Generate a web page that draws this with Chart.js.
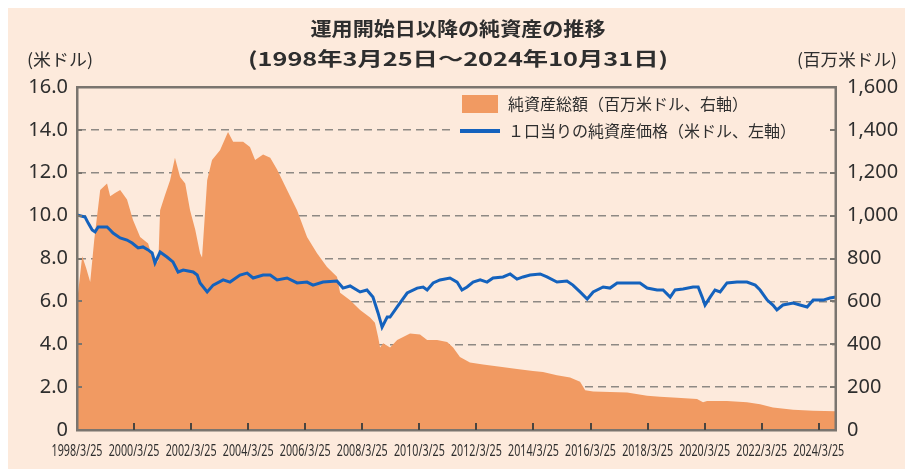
<!DOCTYPE html>
<html lang="ja">
<head>
<meta charset="utf-8">
<title>運用開始日以降の純資産の推移</title>
<script src="https://cdn.jsdelivr.net/npm/chart.js@4.4.1/dist/chart.umd.min.js"></script>
<style>
  html, body { margin: 0; padding: 0; background: #fff; }
  #wrap { width: 905px; height: 472px; position: relative; }
</style>
</head>
<body>
<div id="wrap"><canvas id="navChart"></canvas></div>
<script>
const titleLines = ['運用開始日以降の純資産の推移', '(1998年3月25日～2024年10月31日)'];
const leftUnit = '(米ドル)';
const rightUnit = '(百万米ドル)';
const assetLabel = '純資産総額（百万米ドル、右軸）';
const navLabel = '１口当りの純資産価格（米ドル、左軸）';

// x axis runs in decimal years: 1998/3/25 .. 2024/10/31
const xStart = 1998.227;
const xEnd = 2024.831;
const xTickYears = [1998.227, 2000.227, 2002.227, 2004.227, 2006.227, 2008.227, 2010.227,
	2012.227, 2014.227, 2016.227, 2018.227, 2020.227, 2022.227, 2024.227];
const xTickLabels = ['1998/3/25', '2000/3/25', '2002/3/25', '2004/3/25', '2006/3/25', '2008/3/25', '2010/3/25',
	'2012/3/25', '2014/3/25', '2016/3/25', '2018/3/25', '2020/3/25', '2022/3/25', '2024/3/25'];

// 純資産総額 (百万米ドル, right axis)
const assetYears = [1998.23, 1998.41, 1998.55, 1998.69, 1998.83, 1999.04, 1999.28, 1999.39, 1999.56, 1999.74,
	1999.98, 2000.19, 2000.44, 2000.72, 2000.89, 2001.03, 2001.08, 2001.14, 2001.31, 2001.49,
	2001.66, 2001.84, 2002.02, 2002.19, 2002.37, 2002.54, 2002.61, 2002.79, 2002.96, 2003.24,
	2003.42, 2003.52, 2003.70, 2004.05, 2004.29, 2004.47, 2004.75, 2005.00, 2005.24, 2005.59,
	2005.94, 2006.29, 2006.64, 2006.99, 2007.34, 2007.45, 2007.80, 2008.15, 2008.50, 2008.67,
	2008.78, 2008.85, 2008.96, 2009.20, 2009.45, 2009.90, 2010.25, 2010.50, 2010.85, 2011.20,
	2011.41, 2011.65, 2012.00, 2012.46, 2013.06, 2013.65, 2014.21, 2014.56, 2015.05, 2015.51,
	2015.86, 2016.04, 2016.32, 2017.51, 2018.21, 2018.66, 2019.26, 2019.96, 2020.17, 2020.31,
	2021.01, 2021.71, 2022.17, 2022.62, 2023.33, 2024.03, 2024.83];
const assetValues = [600, 810, 755, 690, 885, 1120, 1150, 1090, 1105, 1120,
	1075, 980, 900, 870, 795, 780, 790, 1025, 1095, 1165,
	1270, 1180, 1150, 1025, 935, 825, 805, 1165, 1260, 1305,
	1360, 1390, 1345, 1345, 1320, 1260, 1285, 1270, 1215, 1120,
	1025, 900, 825, 760, 715, 640, 605, 560, 525, 500,
	435, 385, 405, 385, 420, 450, 445, 420, 420, 410,
	385, 340, 315, 305, 295, 285, 275, 270, 255, 245,
	225, 185, 180, 175, 160, 155, 150, 145, 130, 135,
	135, 130, 120, 105, 95, 90, 88];

// 1口当りの純資産価格 (米ドル, left axis)
const navYears = [1998.23, 1998.51, 1998.62, 1998.76, 1998.86, 1998.97, 1999.28, 1999.39, 1999.49, 1999.74,
	1999.98, 2000.16, 2000.37, 2000.54, 2000.72, 2000.86, 2000.96, 2001.14, 2001.38, 2001.59,
	2001.77, 2001.95, 2002.30, 2002.44, 2002.54, 2002.79, 2003.00, 2003.35, 2003.59, 2003.94,
	2004.19, 2004.40, 2004.75, 2005.00, 2005.24, 2005.59, 2005.94, 2006.29, 2006.50, 2006.85,
	2007.34, 2007.55, 2007.80, 2008.15, 2008.39, 2008.60, 2008.78, 2008.92, 2009.10, 2009.20,
	2009.45, 2009.80, 2010.15, 2010.36, 2010.50, 2010.71, 2010.95, 2011.30, 2011.55, 2011.72,
	2011.90, 2012.11, 2012.36, 2012.60, 2012.81, 2013.16, 2013.41, 2013.65, 2013.86, 2014.11,
	2014.46, 2014.70, 2015.05, 2015.40, 2015.61, 2015.86, 2016.11, 2016.32, 2016.67, 2016.91,
	2017.16, 2017.51, 2017.96, 2018.21, 2018.56, 2018.77, 2019.02, 2019.19, 2019.47, 2019.82,
	2020.00, 2020.14, 2020.24, 2020.42, 2020.59, 2020.77, 2021.01, 2021.36, 2021.71, 2022.00,
	2022.17, 2022.42, 2022.62, 2022.76, 2022.97, 2023.33, 2023.57, 2023.82, 2024.03, 2024.38,
	2024.62, 2024.83];
const navValues = [10.03, 9.93, 9.65, 9.33, 9.24, 9.47, 9.47, 9.33, 9.19, 8.96,
	8.86, 8.72, 8.49, 8.54, 8.40, 8.26, 7.79, 8.30, 8.07, 7.84,
	7.37, 7.46, 7.37, 7.23, 6.86, 6.44, 6.76, 7.00, 6.90, 7.23,
	7.32, 7.09, 7.23, 7.23, 7.00, 7.09, 6.86, 6.90, 6.76, 6.90,
	6.95, 6.62, 6.72, 6.44, 6.53, 6.20, 5.46, 4.80, 5.27, 5.27,
	5.74, 6.39, 6.62, 6.67, 6.53, 6.86, 7.00, 7.09, 6.90, 6.53,
	6.67, 6.90, 7.00, 6.90, 7.09, 7.14, 7.28, 7.04, 7.14, 7.23,
	7.28, 7.14, 6.90, 6.95, 6.76, 6.44, 6.11, 6.44, 6.67, 6.62,
	6.86, 6.86, 6.86, 6.62, 6.53, 6.53, 6.20, 6.53, 6.58, 6.67,
	6.67, 6.20, 5.83, 6.20, 6.53, 6.44, 6.86, 6.90, 6.90, 6.76,
	6.53, 6.06, 5.83, 5.60, 5.83, 5.92, 5.83, 5.74, 6.06, 6.06,
	6.16, 6.20];

const pageBg = '#fdeadc';
const inkColor = '#2e2e2e';
const frameColor = '#7a756f';
const gridColor = '#8e8984';
const tickColor = '#4a4540';
const assetColor = '#f19a62';
const navColor = '#1462bd';
const jpFont = '"Noto Sans CJK JP", "Noto Sans", sans-serif';
const numFont = '"Noto Sans", "Liberation Sans", sans-serif';

function toPoints(xs, ys) {
	return xs.map((x, i) => ({ x: x, y: ys[i] }));
}

// draw text centred on cx, squeezed/stretched so it spans targetWidth
function fitText(ctx, text, cx, cy, targetWidth) {
	const w = ctx.measureText(text).width;
	ctx.save();
	ctx.textAlign = 'center';
	ctx.translate(cx, cy);
	ctx.scale(targetWidth / w, 1);
	ctx.fillText(text, 0, 0);
	ctx.restore();
}

const decorPlugin = {
	id: 'decor',
	beforeDraw(chart) {
		const { ctx, width, height } = chart;
		ctx.save();
		ctx.fillStyle = '#ffffff';
		ctx.fillRect(0, 0, width, height);
		ctx.fillStyle = pageBg;
		ctx.fillRect(8, 8, width - 8, height - 11);
		ctx.restore();
	},
	beforeDatasetsDraw(chart) {
		const { ctx, chartArea } = chart;
		// legend sits on a plain patch that hides the grid behind it
		ctx.save();
		ctx.fillStyle = pageBg;
		ctx.fillRect(453, chartArea.top + 3, chartArea.right - 8 - 453, 53);
		ctx.restore();
	},
	afterDraw(chart) {
		const { ctx, chartArea, scales } = chart;
		const L = chartArea.left, R = chartArea.right, T = chartArea.top, B = chartArea.bottom;
		ctx.save();

		// plot frame
		ctx.fillStyle = frameColor;
		ctx.fillRect(L - 1, T - 1, R - L + 2, 2.5);
		ctx.fillRect(L - 1, B - 1, R - L + 2, 2.5);
		ctx.fillRect(L - 1, T - 1, 2.5, B - T + 2);
		ctx.fillRect(R - 1.5, T - 1, 2.5, B - T + 2);

		// short inner ticks on the value axes
		for (let v = 2; v <= 14; v += 2) {
			const y = Math.round(scales.yL.getPixelForValue(v));
			ctx.fillRect(L, y - 1, 5, 2);
			ctx.fillRect(R - 6, y - 1, 6, 2);
		}

		// x ticks pointing up into the plot
		ctx.fillStyle = tickColor;
		xTickYears.forEach((yr, i) => {
			if (i === 0) return;
			const x = Math.round(scales.x.getPixelForValue(yr));
			ctx.fillRect(x - 1, B - 7, 2, 7);
		});

		// condensed date labels
		ctx.fillStyle = inkColor;
		ctx.font = '17px ' + numFont;
		ctx.textAlign = 'center';
		ctx.textBaseline = 'middle';
		xTickYears.forEach((yr, i) => {
			const x = scales.x.getPixelForValue(yr);
			ctx.save();
			ctx.translate(x, B + 21);
			ctx.scale(0.63, 1);
			ctx.fillText(xTickLabels[i], 0, 0);
			ctx.restore();
		});

		// title
		ctx.font = 'bold 19px ' + jpFont;
		fitText(ctx, titleLines[0], 458, 29, 295);
		fitText(ctx, titleLines[1], 458, 59, 420);

		// axis units
		ctx.font = '17px ' + jpFont;
		fitText(ctx, leftUnit, 60, 60, 66);
		fitText(ctx, rightUnit, 847, 60, 100);

		// legend
		ctx.textAlign = 'left';
		ctx.font = '16px ' + jpFont;
		ctx.fillStyle = assetColor;
		ctx.fillRect(462, 95, 36, 18);
		ctx.fillStyle = navColor;
		ctx.fillRect(460, 129, 40, 4);
		ctx.fillStyle = inkColor;
		ctx.fillText(assetLabel, 508, 104);
		ctx.fillText(navLabel, 508, 131);
		ctx.restore();
	}
};

const chart = new Chart(document.getElementById('navChart'), {
	type: 'line',
	data: {
		datasets: [
			{
				label: navLabel,
				data: toPoints(navYears, navValues),
				yAxisID: 'yL',
				borderColor: navColor,
				borderWidth: 3,
				pointRadius: 0,
				tension: 0,
				fill: false,
				order: 0
			},
			{
				label: assetLabel,
				data: toPoints(assetYears, assetValues),
				yAxisID: 'yR',
				backgroundColor: assetColor,
				borderWidth: 0,
				pointRadius: 0,
				tension: 0,
				fill: 'origin',
				order: 1
			}
		]
	},
	options: {
		responsive: true,
		maintainAspectRatio: false,
		animation: false,
		layout: { padding: { top: 87, left: 0, right: 0, bottom: 0 } },
		plugins: {
			legend: { display: false },
			title: { display: false },
			tooltip: { enabled: false }
		},
		scales: {
			x: {
				type: 'linear',
				min: xStart,
				max: xEnd,
				grid: { display: false },
				border: { display: true, color: frameColor, width: 2 },
				ticks: { display: false },
				afterFit: scale => { scale.height = 42; }
			},
			yL: {
				position: 'left',
				min: 0,
				max: 16,
				ticks: {
					stepSize: 2,
					padding: 9,
					color: inkColor,
					font: { family: numFont, size: 20 },
					callback: v => v === 0 ? '0' : v.toFixed(1)
				},
				grid: {
					drawTicks: false,
					lineWidth: c => c.tick.value === 16 ? 2 : 1.5,
					color: c => c.tick.value === 0 ? 'rgba(0,0,0,0)' : (c.tick.value === 16 ? frameColor : gridColor)
				},
				border: {
					display: true,
					color: frameColor,
					width: 2,
					dash: c => (c.tick && c.tick.value === 16) ? [] : [8, 5]
				},
				afterFit: scale => { scale.width = 77; }
			},
			yR: {
				position: 'right',
				min: 0,
				max: 1600,
				ticks: {
					stepSize: 200,
					padding: 11,
					color: inkColor,
					font: { family: numFont, size: 20 },
					callback: v => v.toLocaleString('en-US')
				},
				grid: { drawOnChartArea: false, drawTicks: false },
				border: { display: true, color: frameColor, width: 2 },
				afterFit: scale => { scale.width = 69; }
			}
		}
	},
	plugins: [decorPlugin]
});
</script>
</body>
</html>
